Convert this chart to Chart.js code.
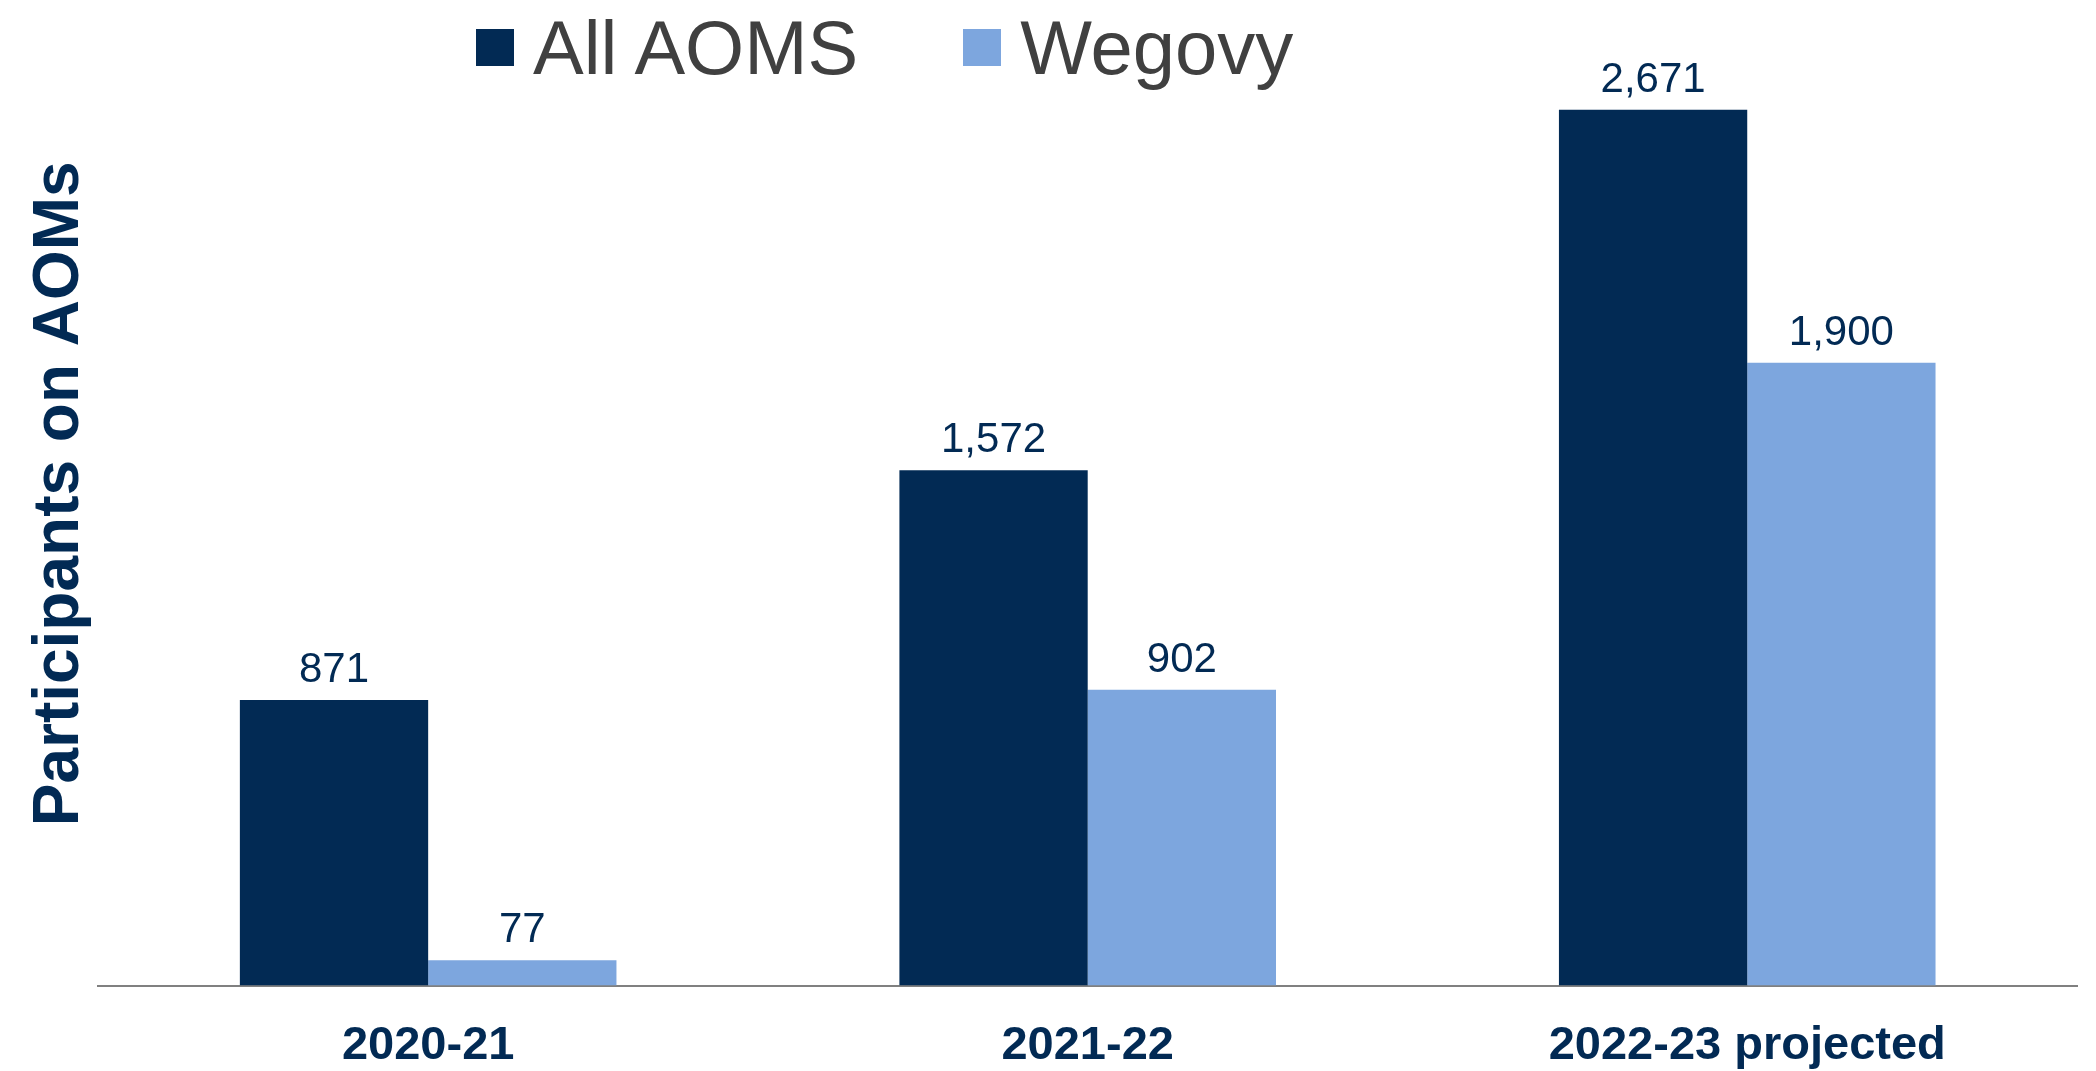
<!DOCTYPE html>
<html>
<head>
<meta charset="utf-8">
<script src="https://cdn.jsdelivr.net/npm/chart.js@4/dist/chart.umd.min.js"></script>
<style>
  html, body { margin: 0; padding: 0; background: #fff; }
  #wrap { position: relative; width: 2096px; height: 1071px; }
  #legend {
    position: absolute; left: 476px; top: 0; height: 95px;
    display: flex; align-items: center;
    font-family: "Liberation Sans", Arial, sans-serif; font-size: 76px; color: #404040;
  }
  .item { display: flex; align-items: center; }
  .box { width: 38px; height: 37px; margin-right: 19px; }
</style>
</head>
<body>
<div id="wrap">
  <canvas id="chart" width="2096" height="1071"></canvas>
  <div id="legend"></div>
</div>
<script>
const categories = ['2020-21', '2021-22', '2022-23 projected'];
const allAoms = [871, 1572, 2671];
const wegovy = [77, 902, 1900];
const seriesNames = ['All AOMS', 'Wegovy'];

const NAVY = '#022a54';
const LIGHT = '#7da6de';

// value labels above each bar
const barLabels = {
    id: 'barLabels',
    afterDatasetsDraw(chart) {
        const ctx = chart.ctx;
        ctx.save();
        ctx.font = '42px "Liberation Sans", Arial, sans-serif';
        ctx.fillStyle = NAVY;
        ctx.textAlign = 'center';
        ctx.textBaseline = 'alphabetic';
        chart.data.datasets.forEach((ds, i) => {
            chart.getDatasetMeta(i).data.forEach((bar, j) => {
                ctx.fillText(ds.data[j].toLocaleString('en-US'), bar.x, bar.y - 18);
            });
        });
        ctx.restore();
    }
};

const chart = new Chart(document.getElementById('chart'), {
    type: 'bar',
    data: {
        labels: categories,
        datasets: [
            {label: seriesNames[0], data: allAoms, backgroundColor: NAVY},
            {label: seriesNames[1], data: wegovy, backgroundColor: LIGHT}
        ]
    },
    options: {
        responsive: false,
        animation: false,
        layout: {padding: {top: 2, right: 19, bottom: -35, left: 0}},
        categoryPercentage: 0.571,
        barPercentage: 1.0,
        plugins: {
            legend: {display: false},
            tooltip: {enabled: false}
        },
        scales: {
            x: {
                grid: {display: false, drawTicks: false},
                border: {display: true, color: '#808080', width: 2},
                ticks: {
                    color: NAVY,
                    padding: 32,
                    font: {family: '"Liberation Sans", Arial, sans-serif', size: 47, weight: 'bold', lineHeight: 1.2}
                }
            },
            y: {
                min: 0,
                max: 3000,
                grid: {display: false, drawTicks: false},
                border: {display: false},
                ticks: {display: false},
                title: {
                    display: true,
                    text: 'Participants on AOMs',
                    color: NAVY,
                    padding: {top: 25, bottom: 3},
                    font: {family: '"Liberation Sans", Arial, sans-serif', size: 64, weight: 'bold', lineHeight: 1.1}
                }
            }
        }
    },
    plugins: [barLabels]
});

// legend as html, built from the dataset colours
const legend = document.getElementById('legend');
chart.data.datasets.forEach((ds, i) => {
    const item = document.createElement('div');
    item.className = 'item';
    if (i > 0) item.style.marginLeft = '105px';
    const box = document.createElement('span');
    box.className = 'box';
    box.style.background = ds.backgroundColor;
    const txt = document.createElement('span');
    txt.textContent = ds.label;
    item.appendChild(box);
    item.appendChild(txt);
    legend.appendChild(item);
});
</script>
</body>
</html>
